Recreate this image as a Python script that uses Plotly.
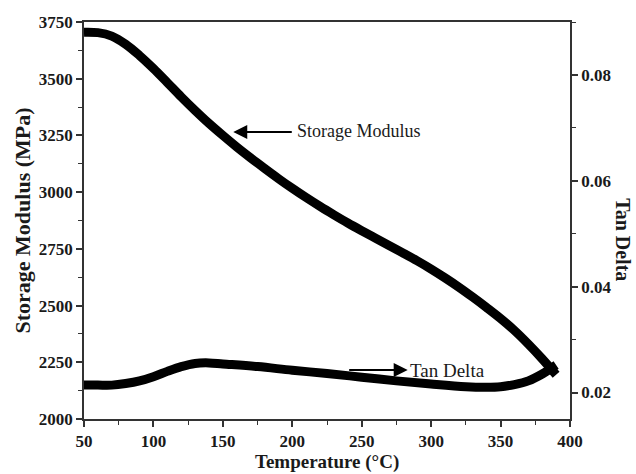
import plotly.graph_objects as go

# Storage modulus (MPa) vs temperature (°C)
sm_temp = [50, 60, 70, 80, 90, 100, 110, 120, 130, 140, 150, 160, 170, 180, 190, 200,
           210, 220, 230, 240, 250, 260, 270, 280, 290, 300, 310, 320, 330, 340, 350,
           360, 370, 380, 390]
sm_vals = [3705, 3703, 3688, 3652, 3602, 3545, 3483, 3420, 3360, 3303, 3250, 3199,
           3151, 3105, 3060, 3017, 2976, 2937, 2900, 2864, 2830, 2797, 2764, 2731,
           2697, 2661, 2622, 2581, 2537, 2491, 2443, 2390, 2330, 2265, 2195]

# Tan delta vs temperature (°C)
td_temp = [50, 60, 70, 80, 90, 100, 110, 120, 130, 140, 150, 175, 200, 225, 250,
           275, 300, 325, 340, 350, 360, 370, 380, 390]
td_vals = [0.0214, 0.0214, 0.0214, 0.0217, 0.0222, 0.0230, 0.0240, 0.0249, 0.0255,
           0.0256, 0.0254, 0.0249, 0.0242, 0.0236, 0.0229, 0.0222, 0.0216, 0.0211,
           0.0210, 0.0211, 0.0215, 0.0222, 0.0235, 0.0252]

x_ticks = [50, 100, 150, 200, 250, 300, 350, 400]
y_ticks = [2000, 2250, 2500, 2750, 3000, 3250, 3500, 3750]
y2_ticks = [0.02, 0.04, 0.06, 0.08]

FONT = "Liberation Serif"
AX = "#333333"
TXT = "#1a1a1a"

fig = go.Figure()
fig.add_trace(go.Scatter(x=sm_temp, y=sm_vals, mode="lines",
                         line=dict(color="black", width=9, shape="spline", smoothing=1),
                         name="Storage Modulus", showlegend=False))
fig.add_trace(go.Scatter(x=td_temp, y=td_vals, mode="lines",
                         line=dict(color="black", width=9, shape="spline", smoothing=1),
                         name="Tan Delta", yaxis="y2", showlegend=False))

tickfont = dict(family=FONT, size=17, color=TXT)

fig.update_layout(
    width=636, height=474,
    margin=dict(l=84, r=66, t=22, b=55),
    plot_bgcolor="white", paper_bgcolor="white",
    xaxis=dict(range=[50, 400], tickvals=x_ticks, ticktext=[f"<b>{v}</b>" for v in x_ticks],
               ticks="outside", ticklen=6, tickwidth=1.5,
               tickcolor=AX, showline=True, linecolor=AX, linewidth=1.5, mirror=True,
               showgrid=False, zeroline=False, tickfont=tickfont,
               minor=dict(dtick=25, ticks="outside", ticklen=4, tickcolor=AX, tickwidth=1.2)),
    yaxis=dict(range=[2000, 3750], tickvals=y_ticks, ticktext=[f"<b>{v}</b>" for v in y_ticks],
               ticks="outside", ticklen=6, tickwidth=1.5,
               tickcolor=AX, showline=True, linecolor=AX, linewidth=1.5,
               showgrid=False, zeroline=False, tickfont=tickfont,
               minor=dict(dtick=125, ticks="outside", ticklen=4, tickcolor=AX, tickwidth=1.2)),
    yaxis2=dict(range=[0.015, 0.09], tickvals=y2_ticks,
                ticktext=[f"<b>{v:.2f}</b>" for v in y2_ticks], overlaying="y", side="right",
                ticks="outside", ticklen=6, tickwidth=1.5, tickcolor=AX, showline=True,
                linecolor=AX, linewidth=1.5, showgrid=False, zeroline=False, tickfont=tickfont,
                minor=dict(tick0=0.01, dtick=0.01, ticks="outside", ticklen=4, tickcolor=AX, tickwidth=1.2)),
)

title_font = dict(family=FONT, size=22, color=TXT)
ann = [
    dict(text="<b>Storage Modulus (MPa)</b>", xref="paper", yref="paper", x=0, y=0.5,
         xanchor="center", yanchor="middle",
         xshift=-62, textangle=-90, showarrow=False, font=title_font),
    dict(text="<b>Temperature (°C)</b>", xref="paper", yref="paper", x=0.5, y=0,
         xanchor="center", yanchor="middle",
         yshift=-43, showarrow=False, font=dict(family=FONT, size=19, color=TXT)),
    dict(text="<b>Tan Delta</b>", xref="paper", yref="paper", x=1, y=0.453,
         xanchor="center", yanchor="middle",
         xshift=53, textangle=90, showarrow=False, font=dict(family=FONT, size=20, color=TXT)),
    # arrows
    dict(text="", x=157.5, y=3265, xref="x", yref="y", ax=60, ay=0, showarrow=True,
         arrowhead=2, arrowsize=1.4, arrowwidth=2, arrowcolor="black"),
    dict(text="Storage Modulus", x=202.3, y=3270, xref="x", yref="y", xanchor="left",
         showarrow=False, font=dict(family=FONT, size=18, color=TXT)),
    dict(text="", x=283.1, y=0.02425, xref="x", yref="y2", ax=-60, ay=0, showarrow=True,
         arrowhead=2, arrowsize=1.4, arrowwidth=2, arrowcolor="black"),
    dict(text="Tan Delta", x=283.5, y=0.02425, xref="x", yref="y2", xanchor="left",
         showarrow=False, font=dict(family=FONT, size=19, color=TXT)),
]
fig.update_layout(annotations=ann)

fig.write_html("out.html")
